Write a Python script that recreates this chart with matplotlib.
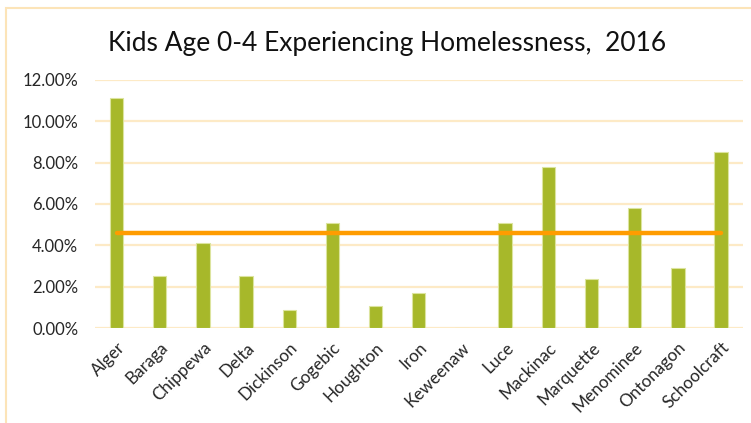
import matplotlib.pyplot as plt
from matplotlib.patches import Rectangle
from matplotlib.ticker import PercentFormatter

counties = ["Alger", "Baraga", "Chippewa", "Delta", "Dickinson", "Gogebic",
            "Houghton", "Iron", "Keweenaw", "Luce", "Mackinac", "Marquette",
            "Menominee", "Ontonagon", "Schoolcraft"]
pct_homeless = [11.1, 2.5, 4.1, 2.5, 0.9, 5.1, 1.1, 1.7, 0.0, 5.1, 7.8, 2.4,
                5.8, 2.9, 8.5]
state_avg = 4.6
yticks = [0, 2, 4, 6, 8, 10, 12]

plt.rcParams['font.family'] = ['Lato', 'DejaVu Sans']

fig = plt.figure(figsize=(7.51, 4.23), dpi=100)
ax = fig.add_axes([0.1265, 0.2239, 0.8623, 0.5877])

# outer chart frame (only top/left visible)
fig.patches.append(Rectangle((6 / 751, -0.1), 1.2, 1 - 8.5 / 423 + 0.1,
                             transform=fig.transFigure, fill=False,
                             edgecolor="#FCE4B8", linewidth=1.5))

x = list(range(len(counties)))
ax.bar(x, pct_homeless, width=0.31, color="#A7B82A",
       edgecolor="#DCE49E", linewidth=0.8, zorder=3)
ax.plot([x[0], x[-1]], [state_avg, state_avg], color="#FF9C00",
        linewidth=3.2, solid_capstyle="round", zorder=4)

ax.set_xlim(-0.5, len(counties) - 0.5)
ax.set_ylim(0, 12)
ax.set_yticks(yticks)
ax.yaxis.set_major_formatter(PercentFormatter(decimals=2))
ax.grid(axis="y", color="#FDEAC6", linewidth=1.6, zorder=0)
ax.set_axisbelow(True)
for s in ["top", "right", "left", "bottom"]:
    ax.spines[s].set_visible(False)

ax.set_xticks(x)
ax.set_xticklabels(counties, rotation=45, ha="right", rotation_mode="anchor",
                   fontsize=12.3, color="#262626")
ax.tick_params(axis="x", length=0, pad=8)
ax.tick_params(axis="y", length=0, pad=12, labelsize=12, labelcolor="#262626")

fig.text(0.515, 0.898, "Kids Age 0-4 Experiencing Homelessness,  2016",
         ha="center", va="center", fontsize=19, color="#111111")

fig.savefig("out.png", dpi=100)
